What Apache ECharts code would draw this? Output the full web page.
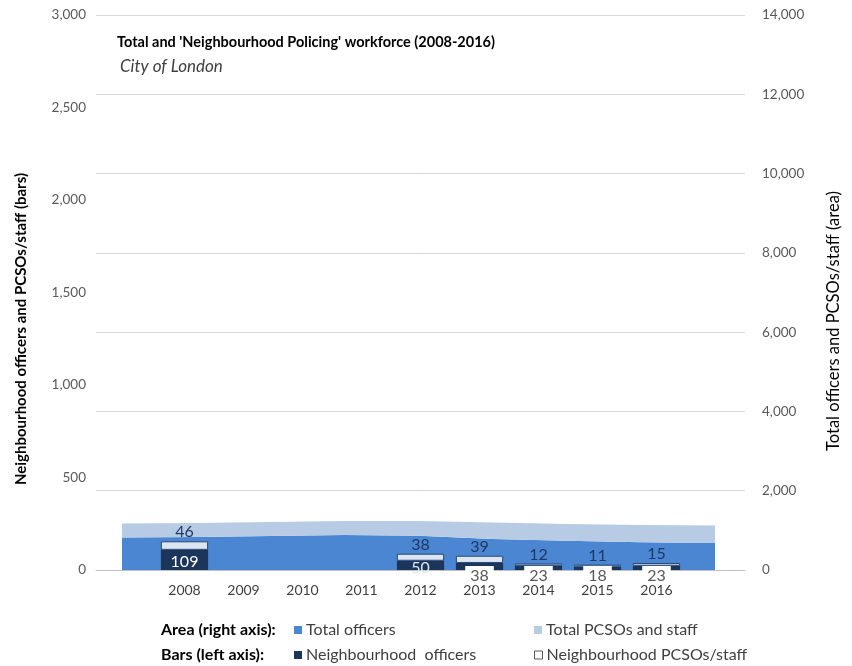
<!DOCTYPE html>
<html>
<head>
<meta charset="utf-8">
<script src="https://cdn.jsdelivr.net/npm/echarts@6/dist/echarts.min.js"></script>
<style>
  html, body { margin: 0; padding: 0; background: #ffffff; }
  #chart { width: 852px; height: 666px; }
</style>
</head>
<body>
<div id="chart"></div>
<script>
// Workforce figures, City of London, 2008-2016
var years = ['2008', '2009', '2010', '2011', '2012', '2013', '2014', '2015', '2016'];

// Bars (left axis)
var neighbourhoodOfficers = [109, null, null, null, 50, 38, 23, 18, 23];
var neighbourhoodStaff    = [46,  null, null, null, 38, 39, 12, 11, 15];

// Areas (right axis)
var totalOfficers = [820, 830, 855, 880, 865, 785, 735, 700, 680];
var totalStaff    = [355, 355, 355, 355, 370, 415, 425, 435, 440];

// Tick values
var leftTicks  = { min: 0, max: 3000, interval: 500 };
var rightTicks = { min: 0, max: 14000, interval: 2000 };

var FONT = 'Lato, "Open Sans", sans-serif';
var C_OFF_AREA = '#4a86d1';
var C_STAFF_AREA = '#b7cbe4';
var C_NAVY = '#1c355a';
var C_LIGHT = '#dce6f2';

// bar axis has an empty slot at each end
var barCats = [''].concat(years, ['']);
function pad(arr) { return [null].concat(arr, [null]); }

function officerItem(v) {
  if (v == null) return null;
  if (v >= 50) {
    return { value: v, label: { show: true, position: 'inside', color: v > 100 ? '#ffffff' : '#dce6f2', offset: [0, 2] } };
  }
  return {
    value: v,
    label: {
      show: true, position: 'insideBottom', distance: 0, offset: [0, 14],
      color: '#595959', backgroundColor: '#ffffff', padding: [2, 5, 0, 5]
    }
  };
}

var fmt = function (v) { return v.toLocaleString('en-GB'); };

function legendBox(name, left, top, extra) {
  var item = { name: name, icon: 'rect' };
  if (extra) item.itemStyle = extra;
  return {
    data: [item], left: left, top: top, padding: 0, itemWidth: 8, itemHeight: 8, itemGap: 0,
    textStyle: { color: '#404040', fontSize: 16, fontFamily: FONT, padding: [0, 0, 0, -1] }
  };
}

var option = {
  animation: false,
  backgroundColor: '#ffffff',
  textStyle: { fontFamily: FONT },
  grid: [
    { left: 96, right: 107, top: 15, bottom: 96, containLabel: false },
    { left: 122, right: 137, top: 15, bottom: 96, containLabel: false }
  ],
  xAxis: [
    {
      type: 'category', gridIndex: 0, data: barCats,
      axisLine: { show: true, lineStyle: { color: '#bfbfbf', width: 1 } },
      axisTick: { show: false },
      axisLabel: { color: '#404040', fontSize: 14, margin: 13, interval: 0, fontFamily: FONT }
    },
    {
      type: 'category', gridIndex: 1, data: years, boundaryGap: false, show: false
    }
  ],
  yAxis: [
    {
      type: 'value', gridIndex: 0, position: 'left',
      min: leftTicks.min, max: leftTicks.max, interval: leftTicks.interval,
      axisLine: { show: false }, axisTick: { show: false }, splitLine: { show: false },
      axisLabel: { color: '#595959', fontSize: 13.5, margin: 10, formatter: fmt, fontFamily: FONT }
    },
    {
      type: 'value', gridIndex: 0, position: 'right',
      min: rightTicks.min, max: rightTicks.max, interval: rightTicks.interval,
      axisLine: { show: false }, axisTick: { show: false },
      splitLine: { show: true, lineStyle: { color: '#d9d9d9', width: 1 } },
      axisLabel: { color: '#595959', fontSize: 13.5, margin: 17, formatter: fmt, fontFamily: FONT }
    },
    {
      type: 'value', gridIndex: 1, show: false,
      min: rightTicks.min, max: rightTicks.max, interval: rightTicks.interval,
      splitLine: { show: false }
    }
  ],
  legend: [
    legendBox('Total officers', 294, 622),
    legendBox('Total PCSOs and staff', 534, 622),
    legendBox('Neighbourhood  officers', 294, 647),
    legendBox('Neighbourhood PCSOs/staff', 534, 647, { color: '#ffffff', borderColor: '#595959', borderWidth: 1 })
  ],
  graphic: [
    { type: 'text', left: 117, top: 35, z: 10,
      style: { text: "Total and 'Neighbourhood Policing' workforce (2008-2016)", fill: '#000000',
               font: 'bold 14.5px ' + FONT } },
    { type: 'text', left: 120, top: 58, z: 10,
      style: { text: 'City of London', fill: '#404040', font: 'italic 17px ' + FONT } },
    { type: 'text', x: 21, y: 329, rotation: Math.PI / 2, z: 10,
      style: { text: 'Neighbourhood officers and PCSOs/staff (bars)', fill: '#000000',
               font: 'bold 15px ' + FONT, align: 'center', verticalAlign: 'middle' } },
    { type: 'text', x: 834, y: 321, rotation: Math.PI / 2, z: 10,
      style: { text: 'Total officers and PCSOs/staff (area)', fill: '#000000',
               font: '16.5px ' + FONT, align: 'center', verticalAlign: 'middle' } },
    { type: 'text', left: 161, top: 622, z: 10,
      style: { text: 'Area (right axis):', fill: '#000000', font: 'bold 16px ' + FONT } },
    { type: 'text', left: 161, top: 647, z: 10,
      style: { text: 'Bars (left axis):', fill: '#000000', font: 'bold 16px ' + FONT } }
  ],
  series: [
    {
      name: 'Total officers', type: 'line', xAxisIndex: 1, yAxisIndex: 2,
      stack: 'area', data: totalOfficers, symbol: 'none', z: 1,
      lineStyle: { width: 0 }, itemStyle: { color: C_OFF_AREA },
      areaStyle: { color: C_OFF_AREA, opacity: 1 }
    },
    {
      name: 'Total PCSOs and staff', type: 'line', xAxisIndex: 1, yAxisIndex: 2,
      stack: 'area', data: totalStaff, symbol: 'none', z: 1,
      lineStyle: { width: 0 }, itemStyle: { color: C_STAFF_AREA },
      areaStyle: { color: C_STAFF_AREA, opacity: 1 }
    },
    {
      name: 'Neighbourhood  officers', type: 'bar', xAxisIndex: 0, yAxisIndex: 0,
      stack: 'bars', barWidth: '80%', z: 3,
      data: pad(neighbourhoodOfficers).map(officerItem),
      itemStyle: { color: C_NAVY },
      label: { fontSize: 16, fontFamily: FONT }
    },
    {
      name: 'Neighbourhood PCSOs/staff', type: 'bar', xAxisIndex: 0, yAxisIndex: 0,
      stack: 'bars', barWidth: '80%', z: 3,
      data: pad(neighbourhoodStaff),
      itemStyle: { color: C_LIGHT, borderColor: '#2b4a73', borderWidth: 1 },
      label: { show: true, position: 'top', distance: 1, color: '#1f3864', fontSize: 16, fontFamily: FONT }
    }
  ]
};

var chart = echarts.init(document.getElementById('chart'), null, { renderer: 'canvas' });
chart.setOption(option);
</script>
</body>
</html>
